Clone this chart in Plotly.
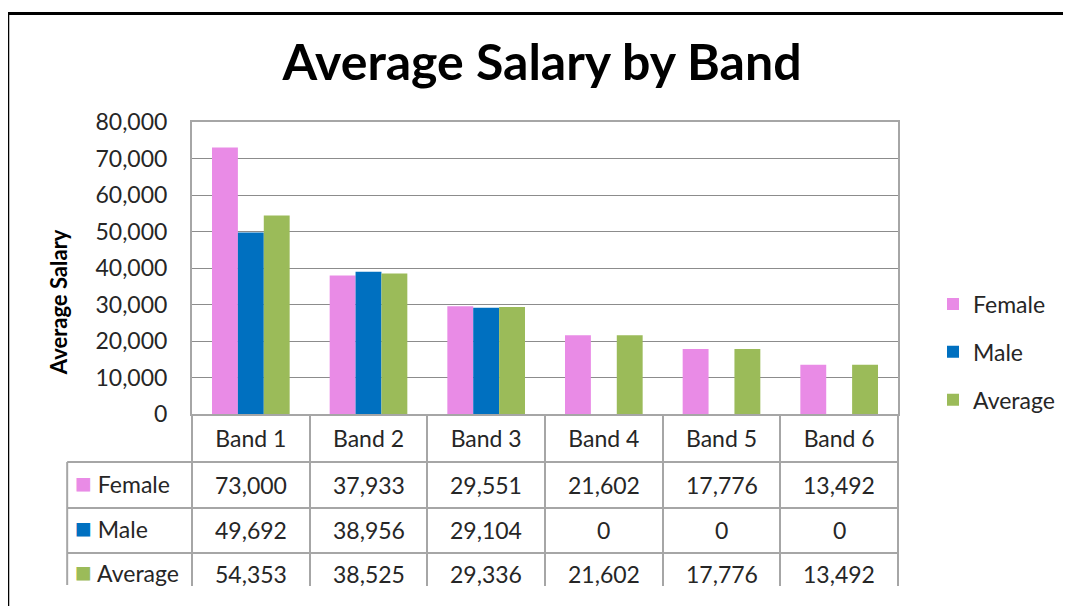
import plotly.graph_objects as go

bands = ["Band 1", "Band 2", "Band 3", "Band 4", "Band 5", "Band 6"]
female = [73000, 37933, 29551, 21602, 17776, 13492]
male = [49692, 38956, 29104, 0, 0, 0]
average = [54353, 38525, 29336, 21602, 17776, 13492]

series_names = ["Female", "Male", "Average"]
series_colors = ["#E98BE6", "#0070C0", "#9BBB59"]
series_values = [female, male, average]

FONT = "Lato"
TEXT = "#262626"
GRID = "#8C8C8C"
TABLE_LINE = "#A6A6A6"

# page has an 8px body margin, so the figure is drawn 8px smaller
OFF = 8
W, H = 1071 - OFF, 606 - OFF
# plot area in page pixels
L, R, T, B = 192, 899, 122, 414


def px_x(p):
    return (p - L) / (R - L)


def px_y(p):
    return (B - p) / (B - T)


fig = go.Figure()
for name, color, vals in zip(series_names, series_colors, series_values):
    fig.add_trace(go.Bar(
        x=bands, y=vals, name=name, marker_color=color,
        marker_line_width=0, legendgroup=name,
    ))

# invisible trace so the second x axis (table grid) is drawn
fig.add_trace(go.Scatter(
    x=bands, y=average, xaxis="x2", mode="markers",
    marker=dict(opacity=0), showlegend=False, hoverinfo="skip",
))

# data table text below the plot
row_centers = [485, 530, 574]
annotations = []
for name, color, vals, yc in zip(series_names, series_colors, series_values, row_centers):
    annotations.append(dict(
        x=px_x(73), y=px_y(yc - 3), xref="paper", yref="paper",
        xanchor="left", yanchor="middle", showarrow=False,
        text=f"<span style='color:{color};font-size:28px'>■</span> {name}",
        font=dict(family=FONT, size=23, color=TEXT),
    ))
    for band, v in zip(bands, vals):
        annotations.append(dict(
            x=band, y=px_y(yc), xref="x", yref="paper",
            xanchor="center", yanchor="middle", showarrow=False,
            text=f"{v:,}", font=dict(family=FONT, size=23, color=TEXT),
        ))

# y axis title
annotations.append(dict(
    x=px_x(58), y=px_y(302), xref="paper", yref="paper", textangle=-90,
    xanchor="center", yanchor="middle", showarrow=False,
    text="<b>Average Salary</b>", font=dict(family=FONT, size=22, color="#000"),
))

shapes = []
# horizontal table lines
for yl in [462, 508, 553]:
    shapes.append(dict(type="line", xref="paper", yref="paper",
                       x0=px_x(67), x1=1, y0=px_y(yl), y1=px_y(yl),
                       line=dict(color=TABLE_LINE, width=2)))
# left border of the row-label column
shapes.append(dict(type="line", xref="paper", yref="paper",
                   x0=px_x(67), x1=px_x(67), y0=px_y(462), y1=px_y(585),
                   line=dict(color=TABLE_LINE, width=2)))
# black frame around the chart (left and top)
shapes.append(dict(type="line", xref="paper", yref="paper",
                   x0=px_x(7.5), x1=px_x(7.5), y0=px_y(12), y1=px_y(700),
                   line=dict(color="black", width=3)))
shapes.append(dict(type="line", xref="paper", yref="paper",
                   x0=px_x(6), x1=px_x(1200), y0=px_y(13.5), y1=px_y(13.5),
                   line=dict(color="black", width=3)))

fig.update_layout(
    width=W, height=H,
    margin=dict(l=L - OFF, r=1071 - R, t=T - OFF, b=606 - B, pad=0),
    paper_bgcolor="white", plot_bgcolor="white",
    barmode="group", bargap=0.34, bargroupgap=0,
    title=dict(text="<b>Average Salary by Band</b>", x=(542 - OFF) / W,
               y=1 - (62 - OFF) / H, xanchor="center", yanchor="middle",
               font=dict(family=FONT, size=50, color="#000")),
    font=dict(family=FONT, size=23, color=TEXT),
    xaxis=dict(type="category", categoryarray=bands, showgrid=False,
               ticks="", showline=True, linecolor=TABLE_LINE, linewidth=2,
               mirror=True, ticklabelstandoff=3,
               tickfont=dict(family=FONT, size=23, color=TEXT)),
    xaxis2=dict(type="category", categoryarray=bands, overlaying="x",
                matches="x", anchor="y", side="bottom", showgrid=False,
                showticklabels=False, ticks="outside", tickson="boundaries",
                ticklen=171, tickwidth=2, tickcolor=TABLE_LINE),
    yaxis=dict(range=[0, 80000], dtick=10000, tickformat=",",
               showgrid=True, gridcolor=GRID, gridwidth=1,
               showline=True, linecolor=TABLE_LINE, linewidth=2, mirror=True,
               ticks="outside", ticklen=18, tickcolor="rgba(0,0,0,0)",
               zeroline=False,
               tickfont=dict(family=FONT, size=23, color=TEXT)),
    legend=dict(x=px_x(933), y=px_y(352), xanchor="left", yanchor="middle",
                traceorder="grouped", tracegroupgap=15, itemwidth=30,
                font=dict(family=FONT, size=23, color=TEXT),
                bgcolor="rgba(0,0,0,0)"),
    annotations=annotations,
    shapes=shapes,
    showlegend=True,
)

fig.write_html("out.html")
